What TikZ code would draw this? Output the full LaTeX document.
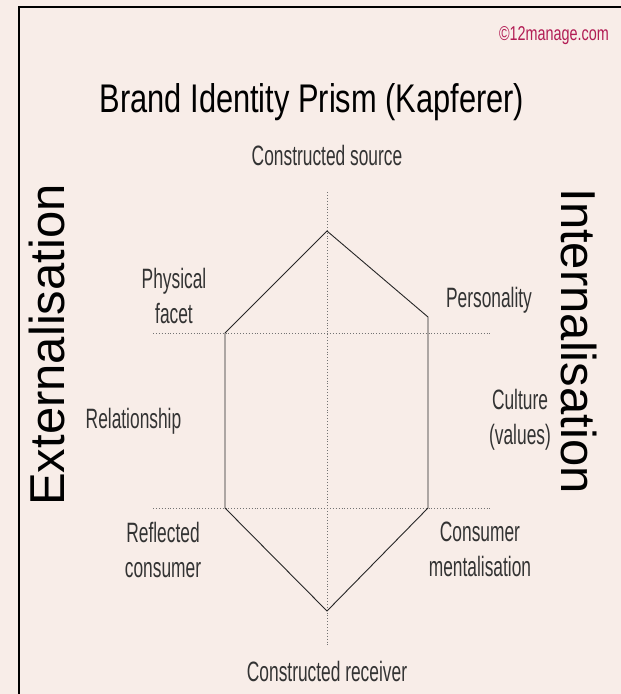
\documentclass[tikz,border=0pt]{standalone}
\usepackage{fontspec}
\setmainfont{Liberation Sans}
\newfontfamily\narrowfont[FakeStretch=0.62]{Liberation Sans}
\newfontfamily\titlefont[FakeStretch=0.77]{Liberation Sans}
\newfontfamily\markfont[FakeStretch=0.72]{Liberation Sans}
\definecolor{paper}{RGB}{248,237,232}
\definecolor{crimson}{RGB}{178,28,84}
\tikzset{facet/.style= {font=\narrowfont\fontsize{28}{35}\selectfont, text=black!80, inner sep=0pt, align=center}}
\tikzset{side/.style= {font=\fontsize{49}{58}\selectfont, inner sep=0pt}}
\tikzset{hexline/.style= {draw=black!85, line width=0.9pt}}
\tikzset{guide/.style= {draw=black!55, dotted, line width=0.9pt}}

\begin{document}
\begin{tikzpicture}[x=1pt,y=-1pt]
        \fill[paper](0,0)rectangle(621,694);
        \useasboundingbox(0,0)rectangle(621,694);
        \draw[line width=2pt](19,694)--(19,7)--(621,7);

        % corners of the prism
        \coordinate(top)at(327,231);
        \coordinate(ul)at(225,333);
        \coordinate(ur)at(428,317);
        \coordinate(ll)at(225,508);
        \coordinate(lr)at(428,508);
        \coordinate(bot)at(327,611);

        % dotted axes
        \coordinate(vt)at(327,192);
        \coordinate(vb)at(327,647);
        \coordinate(hl1)at(153,333);
        \coordinate(hr1)at(490,333);
        \coordinate(hl2)at(153,508);
        \coordinate(hr2)at(490,508);
        \draw[guide](vt)--(vb);
        \draw[guide](hl1)--(hr1);
        \draw[guide](hl2)--(hr2);

        \draw[hexline](top)--(ur)--(lr)--(bot)--(ll)--(ul)--cycle;

        \node[font=\markfont\fontsize{20}{24}\selectfont,text=crimson,anchor=base,inner sep=0pt](mark)at(554,40.5){©12manage.com};
        \node[font=\titlefont\fontsize{40}{48}\selectfont,anchor=base,inner sep=0pt](title)at(312,112){Brand Identity Prism (Kapferer)};

        \node[facet,anchor=base](source)at(327,165){Constructed source};
        \node[facet](physical)at(174,296){Physical\\facet};
        \node[facet,anchor=base](personality)at(489,307){Personality};
        \node[facet,anchor=base](relationship)at(133.5,428){Relationship};
        \node[facet](culture)at(520,420){Culture\\(values)};
        \node[facet](reflected)at(163,549.5){Reflected\\consumer};
        \node[facet](mentalisation)at(480,549.5){Consumer\\mentalisation};
        \node[facet,anchor=base](receiver)at(327,681){Constructed receiver};

        \node[side,rotate=90,anchor=base](ext)at(64,345){Externalisation};
        \node[side,rotate=-90,anchor=base](int)at(561,341){Internalisation};
\end{tikzpicture}
\end{document}
